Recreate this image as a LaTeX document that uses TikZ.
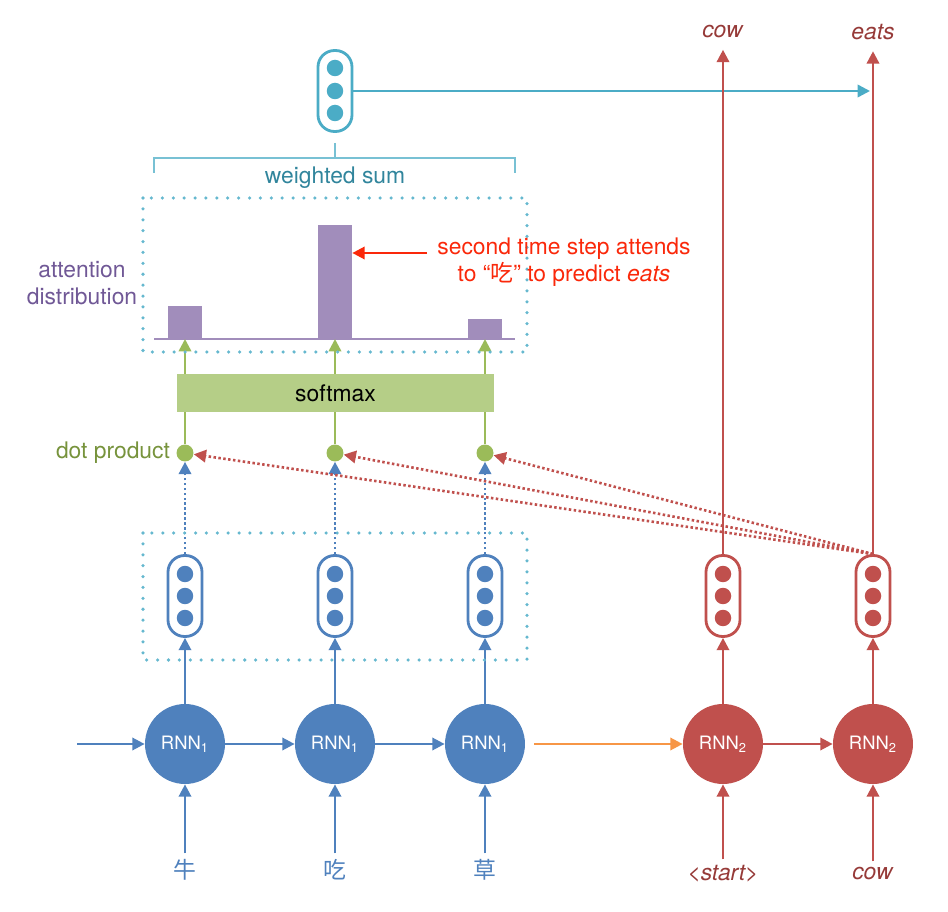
\documentclass[tikz,border=0pt]{standalone}
\usepackage{fontspec}
\setmainfont{TeX Gyre Heros}
\newfontfamily\cjk{Noto Sans CJK SC}
\usetikzlibrary{arrows.meta}

\definecolor{cblue}{RGB}{79,129,189}
\definecolor{cred}{RGB}{192,80,77}
\definecolor{cdred}{RGB}{150,58,56}
\definecolor{ccyan}{RGB}{75,172,198}
\definecolor{cteal}{RGB}{49,133,156}
\definecolor{cgreen}{RGB}{155,187,89}
\definecolor{cdgreen}{RGB}{119,147,60}
\definecolor{csoft}{RGB}{181,206,135}
\definecolor{cpurple}{RGB}{161,141,187}
\definecolor{cdpurple}{RGB}{112,88,150}
\definecolor{corange}{RGB}{247,150,70}
\definecolor{calert}{RGB}{250,40,10}

\begin{document}
\begin{tikzpicture}[x=0.02cm,y=-0.02cm,
        lab/.style={font=\fontsize{13}{15.5}\selectfont},
        rnn/.style={circle,inner sep=0pt,minimum size=1.6cm,text=white,
                    font=\fontsize{10.5}{12}\selectfont},
        vec/.style={draw,fill=white,line width=1.6pt,rounded corners=0.33cm,
                    inner sep=0pt,minimum width=0.68cm,minimum height=1.62cm},
        unit/.style={circle,inner sep=0pt,minimum size=0.33cm},
        dotp/.style={circle,fill=cgreen,inner sep=0pt,minimum size=0.34cm},
        bar/.style={fill=cpurple,inner sep=0pt,minimum width=0.68cm,anchor=south},
        arr/.style={line width=1.4pt,-{Triangle[length=7pt,width=7pt]}},
        pts/.style={line width=1.5pt,dash pattern=on 1.4pt off 1.4pt},
        dotbox/.style={draw=ccyan!85,line width=2pt,line cap=round,
                       dash pattern=on 0pt off 6.2pt}]

      \useasboundingbox (0,0) rectangle (948,912);

      % encoder
      \foreach \i/\x/\w in {1/185/牛,2/335/吃,3/485/草} {
        \node[rnn,fill=cblue] (e\i) at (\x,744) {RNN\textsubscript{1}};
        \node[vec,draw=cblue] (he\i) at (\x,596) {};
        \foreach \y in {574,596,618}
          \node[unit,fill=cblue] at (\x,\y) {};
        \node[dotp] (dp\i) at (\x,453) {};
        \node[lab,text=cblue,font=\cjk\fontsize{13}{15.5}\selectfont] (w\i) at (\x,870) {\w};
        \draw[arr,cblue] (w\i) -- (e\i);
        \draw[arr,cblue] (e\i) -- (he\i);
        \draw[arr,cblue,pts] (he\i) -- (dp\i);
      }
      \coordinate (h0) at (77,744);
      \draw[arr,cblue] (h0) -- (e1);
      \draw[arr,cblue] (e1) -- (e2);
      \draw[arr,cblue] (e2) -- (e3);
      \draw[dotbox] (143,533) rectangle (527,660);

      % decoder
      \foreach \i/\x/\w/\o in {1/723/{\textless start\textgreater}/cow,2/873/cow/eats} {
        \node[rnn,fill=cred] (d\i) at (\x,744) {RNN\textsubscript{2}};
        \node[vec,draw=cred] (hd\i) at (\x,596) {};
        \foreach \y in {574,596,618}
          \node[unit,fill=cred] at (\x,\y) {};
        \node[lab,text=cdred] (in\i) at (\x,874) {\textit{\w}};
        \node[lab,text=cdred] (out\i) at (\x,32) {\textit{\o}};
        \draw[arr,cred] (in\i) -- (d\i);
        \draw[arr,cred] (d\i) -- (hd\i);
      }
      \draw[arr,corange,shorten <=5pt] (e3) -- (d1);
      \draw[arr,cred] (d1) -- (d2);

      % softmax and attention
      \node[lab,fill=csoft,minimum width=6.34cm,minimum height=0.76cm] (sm) at (335.5,393) {softmax};
      \node[lab,text=cdgreen,anchor=east] at (dp1.west) {dot product};
      \coordinate (ax) at (154,339);
      \draw[cpurple,line width=1.6pt] (ax) -- (515,339);
      \foreach \i/\h in {1/0.66cm,2/2.28cm,3/0.40cm} {
        \draw[cgreen,line width=1.4pt] (dp\i) -- (dp\i |- sm.south);
        \draw[arr,cgreen] (dp\i |- sm.north) -- (dp\i |- ax);
        \node[bar,minimum height=\h] (b\i) at (dp\i |- ax) {};
        \draw[arr,cred,pts] (hd2.north) -- (dp\i);
      }
      \draw[dotbox] (143,198) rectangle (527,352);
      \node[lab,text=cdpurple,align=center] at (82,283) {attention\\distribution};
      \node[lab,text=calert,align=center] (note) at (564,262)
        {second time step attends\\to “{\cjk 吃}” to predict \textit{eats}};
      \coordinate (nt) at (427,253);
      \draw[arr,calert] (nt) -- (b2.east |- nt);

      % weighted sum
      \node[vec,draw=ccyan] (hs) at (335,91) {};
      \foreach \y in {68,91,113}
        \node[unit,fill=ccyan] at (335,\y) {};
      \coordinate (br) at (335,158);
      \draw[ccyan!75,line width=1.6pt] (154,173) -- (154,158) -- (515,158) -- (515,173);
      \draw[ccyan!75,line width=1.6pt] (hs.south) ++(0,10) -- (br);
      \node[lab,text=cteal] at (335,178) {weighted sum};
      \coordinate (ctx) at (870,91);
      \draw[arr,ccyan] (hs) -- (ctx);
      \draw[arr,cred,shorten >=3pt] (hd1) -- (out1);
      \draw[arr,cred,shorten >=3pt] (hd2) -- (out2);
    \end{tikzpicture}
\end{document}
